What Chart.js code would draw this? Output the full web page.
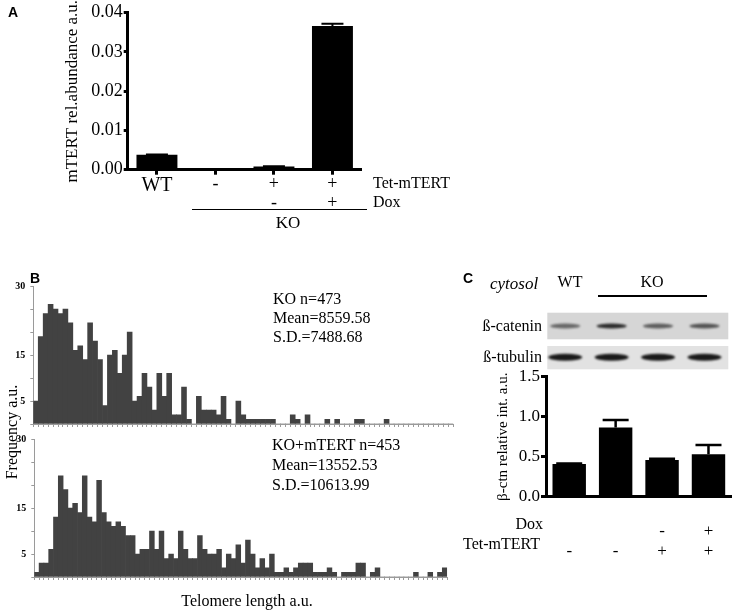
<!DOCTYPE html>
<html>
<head>
<meta charset="utf-8">
<script src="https://cdn.jsdelivr.net/npm/chart.js@4.4.0/dist/chart.umd.min.js"></script>
<style>
  body { margin: 0; background: #fff; }
  #page { position: relative; width: 734px; height: 610px; overflow: hidden; font-family: "Liberation Serif", "Times New Roman", serif; color: #000; }
  canvas { position: absolute; }
  .t { position: absolute; white-space: nowrap; line-height: 1; transform: translateY(-50%); }
  .c { transform: translate(-50%, -50%); }
  .panel { font-family: "Liberation Sans", Arial, sans-serif; font-weight: bold; font-size: 14px; }
  .rule { position: absolute; background: #000; }
</style>
</head>
<body>
<div id="page">
  <canvas id="chartA" width="420" height="230" style="left:0px;top:0px"></canvas>
  <canvas id="chartB1" width="460" height="160" style="left:0px;top:275px"></canvas>
  <canvas id="chartB2" width="460" height="160" style="left:0px;top:428px"></canvas>
  <canvas id="chartC" width="274" height="280" style="left:460px;top:280px"></canvas>

  <!-- panel A -->
  <div class="t panel" style="left:8px;top:12px">A</div>
  <div class="t" style="left:373px;top:183px;font-size:16px">Tet-mTERT</div>
  <div class="t" style="left:373px;top:202px;font-size:16px">Dox</div>
  <div class="rule" style="left:192px;top:209px;width:175px;height:1px"></div>
  <div class="t c" style="left:288px;top:222px;font-size:17px">KO</div>

  <!-- panel B -->
  <div class="t panel" style="left:30px;top:278px">B</div>
  <div class="t c" style="left:12px;top:432px;font-size:16px;transform:translate(-50%,-50%) rotate(-90deg)">Frequency a.u.</div>
  <div class="t" style="left:273px;top:299px;font-size:16px">KO n=473</div>
  <div class="t" style="left:273px;top:318px;font-size:16px">Mean=8559.58</div>
  <div class="t" style="left:273px;top:337px;font-size:16px">S.D.=7488.68</div>
  <div class="t" style="left:272px;top:445px;font-size:16px">KO+mTERT n=453</div>
  <div class="t" style="left:272px;top:465px;font-size:16px">Mean=13552.53</div>
  <div class="t" style="left:272px;top:485px;font-size:16px">S.D.=10613.99</div>
  <div class="t c" style="left:247px;top:601px;font-size:16px">Telomere length a.u.</div>

  <!-- panel C -->
  <div class="t panel" style="left:463px;top:278px">C</div>
  <div class="t" style="left:490px;top:283px;font-size:17px;font-style:italic">cytosol</div>
  <div class="t c" style="left:570px;top:282px;font-size:16px">WT</div>
  <div class="t c" style="left:652px;top:282px;font-size:16px">KO</div>
  <div class="rule" style="left:598px;top:295px;width:109px;height:2px"></div>
  <div class="t" style="right:192px;top:326px;font-size:16px">ß-catenin</div>
  <div class="t" style="right:192px;top:357px;font-size:16px">ß-tubulin</div>
  <div class="t" style="right:191px;top:524px;font-size:16px">Dox</div>
  <div class="t" style="right:194px;top:544px;font-size:16px">Tet-mTERT</div>
</div>

<script>
// panel A: mTERT expression
var groupsA = ["WT", "KO", "KO Tet", "KO Tet Dox"];
var tetRowA = ["WT", "-", "+", "+"];
var doxRowA = ["", "", "-", "+"];
var valuesA = [0.0038, 0.00005, 0.0008, 0.0366];
var errorsA = [0.0001, 0, 0.0001, 0.0006];
var ticksA = [0, 0.01, 0.02, 0.03, 0.04];

// panel B: telomere length histograms (counts per bin)
var koCounts = [5, 19, 24, 26, 25, 24, 25, 22, 16, 17, 14, 22, 18, 14, 4, 15, 16, 11, 15, 20, 5, 6, 11, 8, 3, 11, 6, 11,
  2, 2, 8, 1, 0, 6, 3, 3, 3, 2, 6, 1, 0, 5, 2,
  1, 1, 1, 1, 1, 1, 0,
  0, 0, 2, 1, 0, 2,
  0, 0, 0, 1, 0, 1, 0, 0, 0, 1, 1, 0, 0, 0, 0, 1,
  0, 0, 0, 0, 0, 0, 0, 0, 0, 0, 0, 0, 0];
var koMertCounts = [1, 3, 3, 6, 13, 22, 19, 15, 16, 14, 22, 13, 12, 21, 14, 12, 11, 12, 11, 9, 9, 5, 6, 6,
  10, 6, 10, 4, 5, 4, 10, 6, 4, 4, 9, 6, 5, 5, 6, 2, 5, 4, 7, 3, 8, 5, 2, 4, 2, 5, 1, 1, 2, 1, 2,
  3, 3, 3, 1, 1, 1, 2, 1, 0, 1, 1, 1, 3, 3, 0, 1, 2, 0, 0, 0, 0, 0, 0, 0, 1, 0, 0, 1, 0, 1, 2];
var histTicks = [5, 15, 30];

// panel C: beta-catenin
var groupsC = ["WT", "KO", "KO Tet", "KO Tet Dox"];
var doxRowC = ["", "", "-", "+"];
var tetRowC = ["-", "-", "+", "+"];
var valuesC = [0.41, 0.865, 0.46, 0.53];
var errorsC = [0.005, 0.095, 0.015, 0.115];
var ticksC = [0, 0.5, 1.0, 1.5];
var cateninBands = [0.55, 0.85, 0.6, 0.65];
var tubulinBands = [0.95, 0.95, 0.95, 0.95];

Chart.defaults.font.family = '"Liberation Serif", "Times New Roman", serif';
Chart.defaults.color = '#000';

var errorBars = {
  id: 'errorBars',
  afterDatasetsDraw: function (chart, args, opts) {
    var ctx = chart.ctx;
    var y = chart.scales.y;
    var meta = chart.getDatasetMeta(0);
    ctx.save();
    ctx.strokeStyle = '#000';
    ctx.lineWidth = opts.width;
    meta.data.forEach(function (bar, i) {
      if (!opts.errors[i]) return;
      var v = chart.data.datasets[0].data[i];
      var top = y.getPixelForValue(v + opts.errors[i]);
      ctx.beginPath();
      ctx.moveTo(bar.x, bar.y);
      ctx.lineTo(bar.x, top);
      ctx.moveTo(bar.x - opts.cap / 2, top);
      ctx.lineTo(bar.x + opts.cap / 2, top);
      ctx.stroke();
    });
    ctx.restore();
  }
};

// western blot strips above panel C, one band per lane
var blots = {
  id: 'blots',
  afterDraw: function (chart, args, opts) {
    var ctx = chart.ctx;
    var x = chart.scales.x;
    opts.rows.forEach(function (row) {
      ctx.save();
      ctx.fillStyle = row.bg;
      ctx.fillRect(opts.left, row.top, opts.right - opts.left, row.height);
      ctx.filter = 'blur(' + row.blur + 'px)';
      row.bands.forEach(function (a, i) {
        var cx = x.getPixelForValue(i) + opts.shift;
        ctx.fillStyle = 'rgba(15,15,15,' + a + ')';
        ctx.beginPath();
        ctx.ellipse(cx, row.bandY, row.bandW / 2, row.bandH / 2, 0, 0, Math.PI * 2);
        ctx.fill();
      });
      ctx.restore();
    });
  }
};

new Chart('chartA', {
  type: 'bar',
  data: {
    labels: groupsA.map(function (g, i) { return [tetRowA[i], doxRowA[i]]; }),
    datasets: [{ data: valuesA, backgroundColor: '#000', barPercentage: 0.7, categoryPercentage: 1 }]
  },
  options: {
    responsive: false,
    animation: false,
    layout: { padding: { top: 12.7, right: 58.3, left: 0, bottom: 0 } },
    plugins: {
      legend: { display: false },
      tooltip: { enabled: false },
      errorBars: { errors: errorsA, cap: 22, width: 2 }
    },
    scales: {
      x: {
        grid: { drawOnChartArea: false, offset: false, tickLength: 5, tickWidth: 3, tickColor: '#000' },
        border: { color: '#000', width: 3 },
        ticks: {
          font: function (c) { return { size: c.index === 0 ? 20 : 18, lineHeight: 1.06 }; },
          padding: 0, autoSkip: false, maxRotation: 0
        },
        afterFit: function (s) { s.height = 60.3; }
      },
      y: {
        min: 0, max: 0.04,
        afterBuildTicks: function (s) { s.ticks = ticksA.map(function (v) { return { value: v }; }); },
        ticks: { font: { size: 18 }, padding: 1, callback: function (v) { return v.toFixed(2); } },
        grid: { drawOnChartArea: false, tickLength: 4, tickWidth: 3, tickColor: '#000' },
        border: { color: '#000', width: 3 },
        title: { display: true, text: 'mTERT rel.abundance a.u.', font: { size: 17 }, padding: { top: 62, bottom: 0 } },
        afterFit: function (s) { s.width = 127.7; }
      }
    }
  },
  plugins: [errorBars]
});

function histogram(id, counts, area) {
  new Chart(id, {
    type: 'bar',
    data: {
      labels: counts.map(function (c, i) { return i; }),
      datasets: [{ data: counts, backgroundColor: '#424242', barPercentage: 1, categoryPercentage: 1, borderWidth: 0 }]
    },
    options: {
      responsive: false,
      animation: false,
      layout: { padding: { top: area.top, right: area.right, left: 0, bottom: 0 } },
      plugins: { legend: { display: false }, tooltip: { enabled: false } },
      scales: {
        x: {
          grid: { drawOnChartArea: false, tickLength: 3, color: '#9a9a9a' },
          border: { color: '#9a9a9a', width: 1 },
          ticks: { display: false },
          afterFit: function (s) { s.height = area.bottom; }
        },
        y: {
          min: 0, max: 30,
          ticks: {
            stepSize: 5, padding: 5, font: { size: 10, weight: 'bold' },
            callback: function (v) { return histTicks.indexOf(v) >= 0 ? String(v) : ''; }
          },
          grid: { drawOnChartArea: false, tickLength: 3, color: '#9a9a9a' },
          border: { color: '#9a9a9a', width: 1 },
          afterFit: function (s) { s.width = area.left; }
        }
      }
    }
  });
}

histogram('chartB1', koCounts, { left: 33.3, top: 11, right: 6.7, bottom: 11 });
histogram('chartB2', koMertCounts, { left: 34.3, top: 10.3, right: 12.9, bottom: 9.7 });

new Chart('chartC', {
  type: 'bar',
  data: {
    labels: groupsC.map(function (g, i) { return [doxRowC[i], tetRowC[i]]; }),
    datasets: [{ data: valuesC, backgroundColor: '#000', barPercentage: 0.72, categoryPercentage: 1 }]
  },
  options: {
    responsive: false,
    animation: false,
    layout: { padding: { top: 96.7, right: 2.3, left: 0, bottom: 0 } },
    plugins: {
      legend: { display: false },
      tooltip: { enabled: false },
      errorBars: { errors: errorsC, cap: 26, width: 2.5 },
      blots: {
        left: 87.3, right: 268.3, shift: -4,
        rows: [
          { top: 32.7, height: 26.6, bg: '#d6d6d6', bandY: 46, bandW: 30, bandH: 5, blur: 1.2, bands: cateninBands },
          { top: 66, height: 23.3, bg: '#e2e2e2', bandY: 77.3, bandW: 34, bandH: 7, blur: 0.8, bands: tubulinBands }
        ]
      }
    },
    scales: {
      x: {
        grid: { display: false },
        border: { color: '#000', width: 3 },
        ticks: { font: { size: 17, lineHeight: 1.18 }, padding: 17, autoSkip: false, maxRotation: 0 },
        afterFit: function (s) { s.height = 63.3; }
      },
      y: {
        min: 0, max: 1.5,
        afterBuildTicks: function (s) { s.ticks = ticksC.map(function (v) { return { value: v }; }); },
        ticks: { font: { size: 17 }, padding: 1, callback: function (v) { return v.toFixed(1); } },
        grid: { drawOnChartArea: false, tickLength: 5, tickWidth: 3, tickColor: '#000' },
        border: { color: '#000', width: 3 },
        title: { display: true, text: 'β-ctn relative int. a.u.', font: { size: 15 }, padding: { top: 34, bottom: 0 } },
        afterFit: function (s) { s.width = 86; }
      }
    }
  },
  plugins: [errorBars, blots]
});
</script>
</body>
</html>
